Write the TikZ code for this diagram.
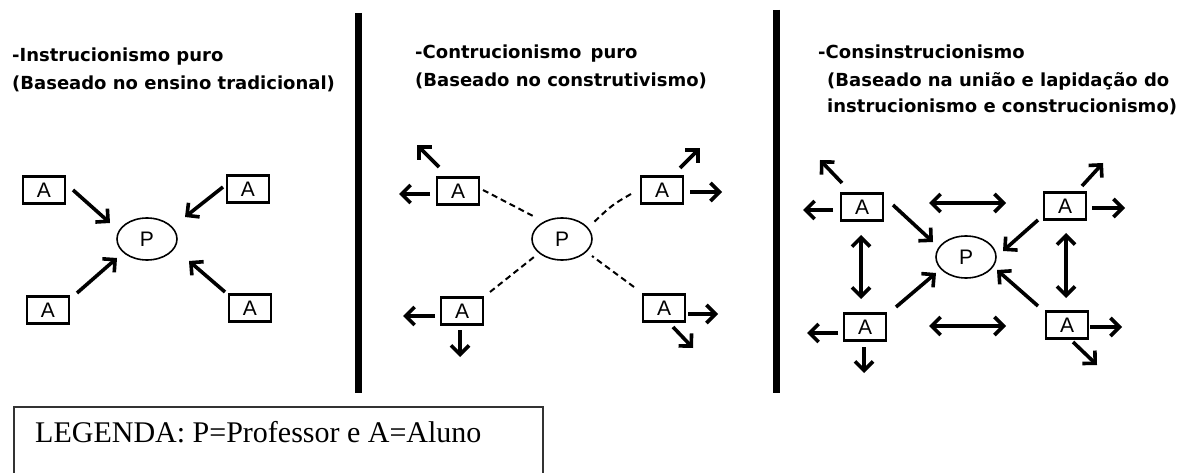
\documentclass[tikz,border=0pt]{standalone}
\usepackage{fontspec}
\setmainfont{Liberation Serif}
\newfontfamily\titlefont{DejaVu Sans}
\newfontfamily\boxfont{Liberation Sans}
\usetikzlibrary{arrows.meta,shapes.geometric}
\begin{document}
\begin{tikzpicture}[x=1pt,y=-1pt,
  abox/.style={draw,line width=2.2pt,minimum width=42pt,minimum height=27pt,inner sep=0pt,font=\boxfont\fontsize{21}{21}\selectfont},
  pcirc/.style={draw,ellipse,line width=1.6pt,minimum width=60pt,minimum height=42pt,inner sep=0pt,font=\boxfont\fontsize{21}{21}\selectfont},
  arr/.style={line width=3.6pt,-{Straight Barb[length=9pt,width=18pt,line width=3.6pt]}},
  darr/.style={line width=3.6pt,{Straight Barb[length=9pt,width=18pt,line width=3.6pt]}-{Straight Barb[length=9pt,width=18pt,line width=3.6pt]}},
  dline/.style={line width=2pt,dash pattern=on 6pt off 4pt},
  title/.style={anchor=base west,inner sep=0pt,font=\titlefont\bfseries\fontsize{18}{18}\selectfont},
  sepline/.style={line width=7pt}]
\useasboundingbox (0,0) rectangle (1186,473);
\fill[white] (0,0) rectangle (1186,473);
% separators
\draw[sepline] (358,13) -- (358,393);
\draw[sepline] (776,10) -- (776,393);
% titles
\node[title] (t1a) at (12,62) {-Instrucionismo puro};
\node[title] (t1b) at (12,90) {(Baseado no ensino tradicional)};
\node[title] (t2a) at (415,59) {-Contrucionismo\, puro};
\node[title] (t2b) at (415,87) {(Baseado no construtivismo)};
\node[title] (t3a) at (818,59) {-Consinstrucionismo};
\node[title] (t3b) at (827,87) {(Baseado na união e lapidação do};
\node[title] (t3c) at (827,113) {instrucionismo e construcionismo)};
% ===== panel 1
\node[abox] (b1tl) at (44,190) {A};
\node[abox] (b1tr) at (248,189) {A};
\node[abox] (b1bl) at (48,310) {A};
\node[abox] (b1br) at (250,308) {A};
\node[pcirc] (p1) at (147,239) {P};
\coordinate (a1s) at (73,190);  \coordinate (a1e) at (110,223);
\coordinate (a2s) at (223,187); \coordinate (a2e) at (185,217);
\coordinate (a3s) at (77,293);  \coordinate (a3e) at (117,258);
\coordinate (a4s) at (225,292); \coordinate (a4e) at (189,261);
\draw[arr] (a1s) -- (a1e);
\draw[arr] (a2s) -- (a2e);
\draw[arr] (a3s) -- (a3e);
\draw[arr] (a4s) -- (a4e);
% ===== panel 2
\node[abox] (b2tl) at (458,191) {A};
\node[abox] (b2tr) at (662,190) {A};
\node[abox] (b2bl) at (462,311) {A};
\node[abox] (b2br) at (664,308) {A};
\node[pcirc] (p2) at (562,239) {P};
\coordinate (d1s) at (483,190); \coordinate (d1e) at (533,216);
\coordinate (d2s) at (631,194); \coordinate (d2e) at (593,223);
\coordinate (d3s) at (490,292); \coordinate (d3e) at (534,257);
\coordinate (d4s) at (634,287); \coordinate (d4e) at (592,256);
\draw[dline] (d1s) -- (d1e);
\draw[dline] (d2s) .. controls (612,205) .. (d2e);
\draw[dline] (d3s) -- (d3e);
\draw[dline] (d4s) -- (d4e);
\coordinate (e1s) at (430,194); \coordinate (e1e) at (399,194);
\coordinate (e2s) at (439,167); \coordinate (e2e) at (417,145);
\coordinate (e3s) at (680,168); \coordinate (e3e) at (700,148);
\coordinate (e4s) at (690,192); \coordinate (e4e) at (722,192);
\coordinate (e5s) at (435,316); \coordinate (e5e) at (403,316);
\coordinate (e6s) at (460,330); \coordinate (e6e) at (460,357);
\coordinate (e7s) at (688,314); \coordinate (e7e) at (718,314);
\coordinate (e8s) at (673,327); \coordinate (e8e) at (693,348);
\foreach \i in {1,...,8} {\draw[arr] (e\i s) -- (e\i e);}
% ===== panel 3
\node[abox] (b3tl) at (862,207) {A};
\node[abox] (b3tr) at (1065,206) {A};
\node[abox] (b3bl) at (865,327) {A};
\node[abox] (b3br) at (1067,325) {A};
\node[pcirc] (p3) at (966,257) {P};
\coordinate (f1s) at (893,205);  \coordinate (f1e) at (933,242);
\coordinate (f2s) at (1038,220); \coordinate (f2e) at (1003,251);
\coordinate (f3s) at (896,307);  \coordinate (f3e) at (936,273);
\coordinate (f4s) at (1038,306); \coordinate (f4e) at (997,270);
\foreach \i in {1,...,4} {\draw[arr] (f\i s) -- (f\i e);}
\coordinate (h1s) at (929,203);  \coordinate (h1e) at (1006,203);
\coordinate (h2s) at (929,326);  \coordinate (h2e) at (1006,326);
\coordinate (h3s) at (861,235);  \coordinate (h3e) at (861,299);
\coordinate (h4s) at (1066,233); \coordinate (h4e) at (1066,298);
\foreach \i in {1,...,4} {\draw[darr] (h\i s) -- (h\i e);}
\coordinate (g1s) at (833,210);  \coordinate (g1e) at (803,210);
\coordinate (g2s) at (842,183);  \coordinate (g2e) at (820,160);
\coordinate (g3s) at (1082,186); \coordinate (g3e) at (1103,163);
\coordinate (g4s) at (1092,208); \coordinate (g4e) at (1125,208);
\coordinate (g5s) at (838,333);  \coordinate (g5e) at (807,333);
\coordinate (g6s) at (864,347);  \coordinate (g6e) at (864,373);
\coordinate (g7s) at (1090,327); \coordinate (g7e) at (1122,327);
\coordinate (g8s) at (1073,342); \coordinate (g8e) at (1097,365);
\foreach \i in {1,...,8} {\draw[arr] (g\i s) -- (g\i e);}
% ===== legend
\draw[line width=1.3pt,draw=black!80] (14,490) -- (14,407) -- (543,407) -- (543,490);
\node[anchor=base west,inner sep=0pt,font=\fontsize{30}{30}\selectfont] (leg) at (35,442) {LEGENDA: P=Professor e A=Aluno};
\end{tikzpicture}
\end{document}
